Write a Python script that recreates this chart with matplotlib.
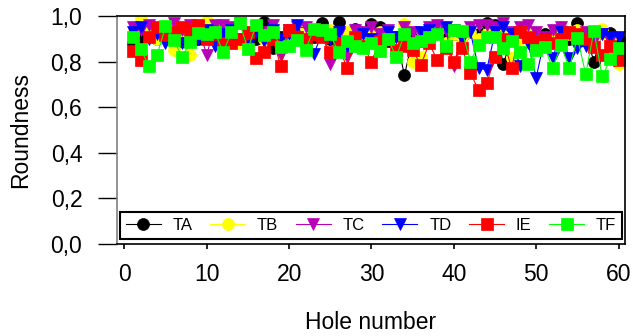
import numpy as np
import matplotlib
matplotlib.use("Agg")
import matplotlib.pyplot as plt

plt.rcParams['font.family'] = ['Liberation Sans', 'DejaVu Sans']

holes = list(range(1, 61))

ta = [0.88, 0.90, 0.92, 0.90, 0.93, 0.91, 0.89, 0.92, 0.90, 0.93,
      0.91, 0.90, 0.92, 0.89, 0.91, 0.90, 0.975, 0.86, 0.91, 0.93,
      0.92, 0.90, 0.91, 0.97, 0.90, 0.975, 0.88, 0.945, 0.90, 0.965,
      0.95, 0.89, 0.91, 0.74, 0.90, 0.89, 0.91, 0.93, 0.90, 0.92,
      0.91, 0.93, 0.92, 0.97, 0.96, 0.79, 0.90, 0.92, 0.91, 0.90,
      0.92, 0.91, 0.93, 0.90, 0.97, 0.92, 0.80, 0.93, 0.925, 0.90]

tb = [0.92, 0.99, 0.93, 0.90, 0.92, 0.85, 0.90, 0.83, 0.92, 0.98,
      0.94, 0.96, 0.92, 0.88, 0.93, 0.95, 0.90, 0.93, 0.89, 0.93,
      0.95, 0.91, 0.93, 0.92, 0.94, 0.90, 0.93, 0.91, 0.89, 0.92,
      0.93, 0.91, 0.90, 0.965, 0.80, 0.82, 0.90, 0.93, 0.88, 0.92,
      0.91, 0.93, 0.90, 0.92, 0.94, 0.93, 0.815, 0.90, 0.92, 0.91,
      0.89, 0.90, 0.95, 0.92, 0.94, 0.90, 0.91, 0.945, 0.90, 0.79]

tc = [0.95, 0.94, 0.96, 0.93, 0.95, 0.97, 0.94, 0.96, 0.95, 0.83,
      0.96, 0.96, 0.95, 0.97, 0.89, 0.95, 0.93, 0.96, 0.83, 0.94,
      0.95, 0.95, 0.93, 0.94, 0.79, 0.92, 0.82, 0.94, 0.93, 0.95,
      0.92, 0.94, 0.91, 0.95, 0.93, 0.92, 0.95, 0.96, 0.94, 0.78,
      0.93, 0.95, 0.96, 0.96, 0.95, 0.97, 0.93, 0.95, 0.96, 0.93,
      0.91, 0.94, 0.95, 0.92, 0.90, 0.93, 0.89, 0.92, 0.89, 0.81]

td = [0.93, 0.95, 0.90, 0.92, 0.88, 0.91, 0.88, 0.93, 0.90, 0.94,
      0.87, 0.92, 0.94, 0.90, 0.87, 0.93, 0.89, 0.94, 0.90, 0.92,
      0.96, 0.88, 0.835, 0.92, 0.90, 0.93, 0.87, 0.88, 0.92, 0.90,
      0.87, 0.93, 0.91, 0.88, 0.86, 0.93, 0.94, 0.92, 0.95, 0.94,
      0.90, 0.93, 0.77, 0.765, 0.93, 0.95, 0.92, 0.78, 0.88, 0.73,
      0.90, 0.815, 0.93, 0.815, 0.86, 0.87, 0.93, 0.92, 0.91, 0.91]

ie = [0.845, 0.805, 0.91, 0.95, 0.915, 0.93, 0.95, 0.94, 0.96, 0.90,
      0.92, 0.88, 0.88, 0.90, 0.93, 0.815, 0.84, 0.90, 0.78, 0.94,
      0.91, 0.90, 0.92, 0.91, 0.84, 0.88, 0.77, 0.91, 0.87, 0.80,
      0.89, 0.90, 0.85, 0.87, 0.85, 0.785, 0.88, 0.805, 0.86, 0.80,
      0.86, 0.75, 0.675, 0.705, 0.82, 0.90, 0.77, 0.93, 0.91, 0.89,
      0.90, 0.88, 0.90, 0.93, 0.92, 0.90, 0.865, 0.83, 0.87, 0.805]

tf = [0.91, 0.855, 0.78, 0.83, 0.955, 0.895, 0.82, 0.885, 0.925, 0.92,
      0.93, 0.84, 0.93, 0.97, 0.855, 0.96, 0.915, 0.93, 0.865, 0.87,
      0.895, 0.85, 0.945, 0.94, 0.92, 0.84, 0.89, 0.87, 0.86, 0.88,
      0.845, 0.90, 0.82, 0.92, 0.88, 0.89, 0.91, 0.92, 0.87, 0.94,
      0.935, 0.80, 0.875, 0.91, 0.91, 0.86, 0.89, 0.84, 0.79, 0.85,
      0.865, 0.77, 0.875, 0.77, 0.905, 0.745, 0.935, 0.735, 0.81, 0.86]

series = [
    ("TA", ta, "black", "o", 8.6),
    ("TB", tb, "#ffff00", "o", 8.6),
    ("TC", tc, "#b800b8", "v", 9.0),
    ("TD", td, "#0000ff", "v", 9.0),
    ("IE", ie, "#ff0000", "s", 8.4),
    ("TF", tf, "#00ff00", "s", 8.4),
]

fig = plt.figure(figsize=(6.33, 3.36), dpi=100)
ax = fig.add_axes([117 / 633, 1 - 244 / 336, 508 / 633, 228 / 336])

for name, vals, col, mk, ms in series:
    ax.plot(holes, vals, color=col, lw=0.8, marker=mk, markersize=ms,
            markerfacecolor=col, markeredgecolor=col, markeredgewidth=0.5,
            label=name)

ax.set_xlim(-0.886, 60.77)
ax.set_ylim(0, 1.0)
ax.set_xticks([0, 10, 20, 30, 40, 50, 60])
ax.set_yticks([0.0, 0.2, 0.4, 0.6, 0.8, 1.0])
ax.set_yticklabels(["0,0", "0,2", "0,4", "0,6", "0,8", "1,0"])

ax.spines['left'].set_color('#808080')
ax.spines['left'].set_linewidth(1.2)
for s in ('top', 'right', 'bottom'):
    ax.spines[s].set_color('black')
    ax.spines[s].set_linewidth(1.2)

ax.tick_params(axis='y', direction='out', length=14, width=1.0,
               pad=11, labelsize=16.5, colors='black')
ax.tick_params(axis='x', direction='out', length=3.5, width=1.2,
               pad=10, labelsize=16.5, colors='black')

ax.set_ylabel("Roundness", fontsize=16.5, labelpad=13)
ax.set_xlabel("Hole number", fontsize=16.5, labelpad=18)

leg = ax.legend(loc='lower left', bbox_to_anchor=(0.006, 0.022, 0.988, 0.134),
                mode='expand', ncol=6, fontsize=12, frameon=True,
                fancybox=False, edgecolor='black', handlelength=2.1,
                handletextpad=0.7, borderaxespad=0, borderpad=0.35,
                columnspacing=1.0)
leg.get_frame().set_linewidth(1.5)
leg.get_frame().set_alpha(1.0)

fig.savefig("out.png", dpi=100)
